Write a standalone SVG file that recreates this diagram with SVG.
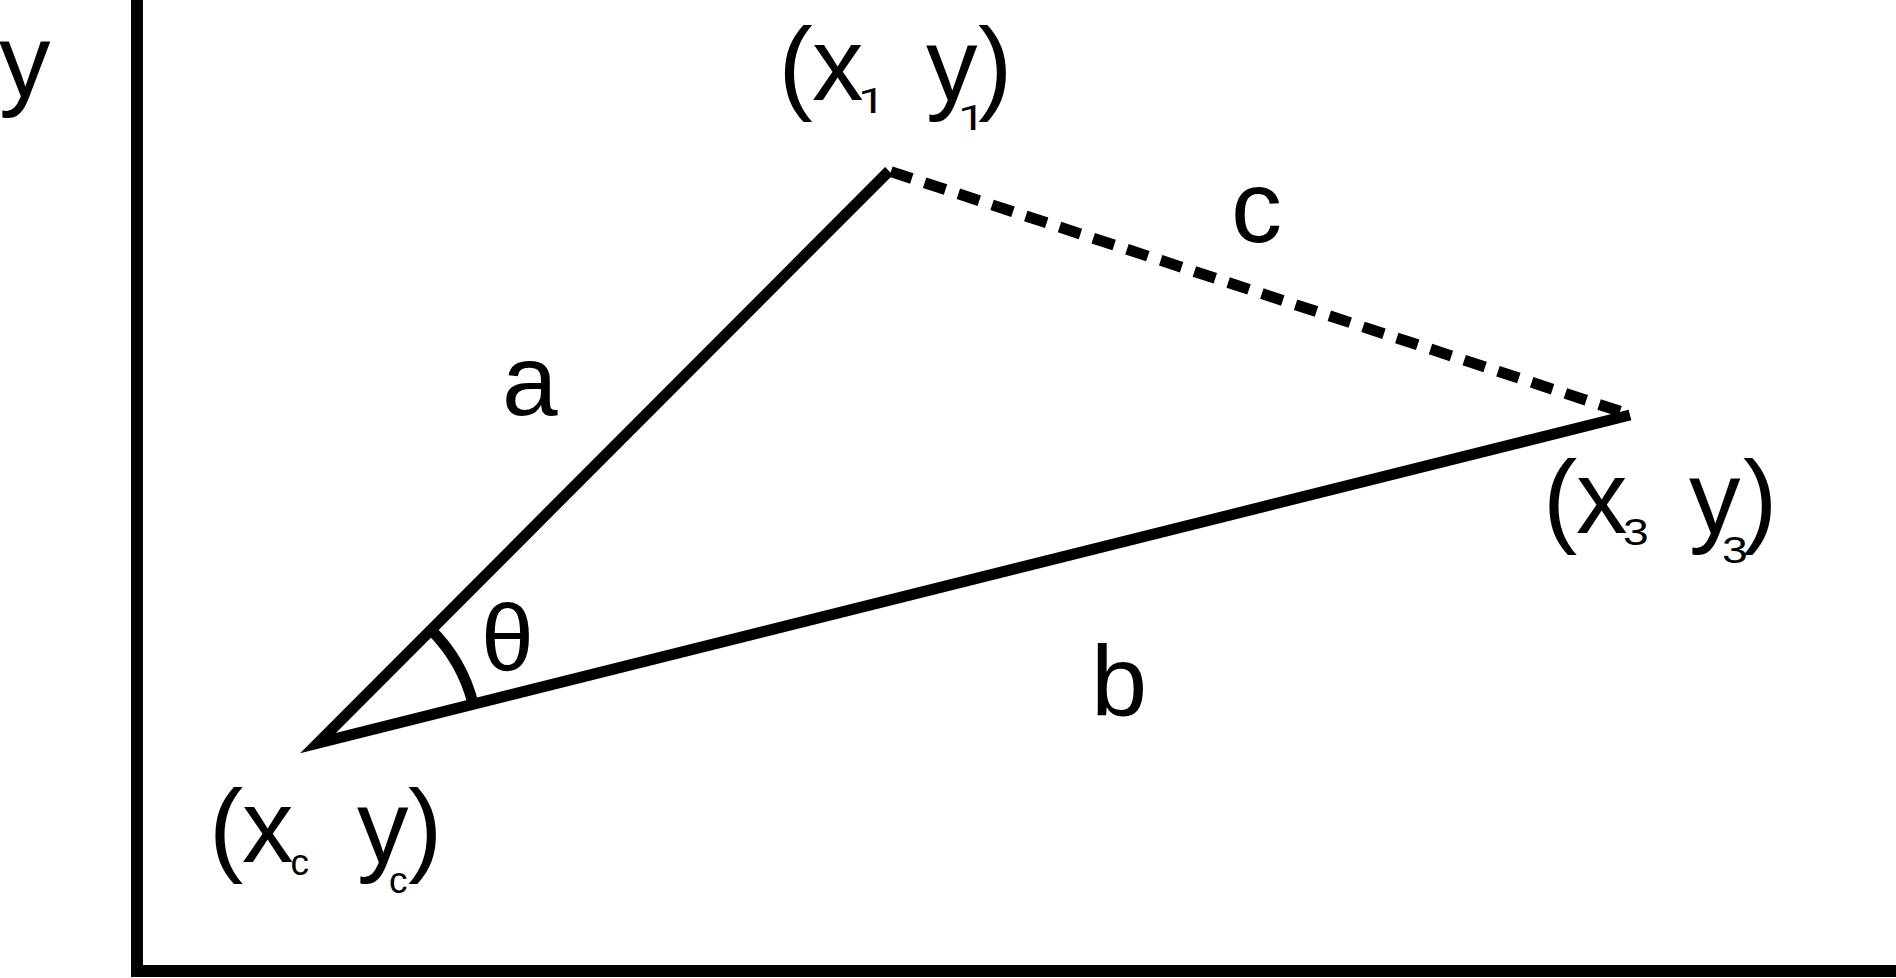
<svg xmlns="http://www.w3.org/2000/svg" width="1896" height="978" viewBox="0 0 1896 978">
<style>
text{font-family:"Liberation Sans",Arial,sans-serif;fill:#000}
.big{font-size:103px}
.sub{font-size:37px}
.one{font-family:Roboto,"Liberation Sans",Arial,sans-serif;font-size:36px}
.ln{fill:none;stroke:#000;stroke-linecap:butt}
</style>
<rect width="1896" height="978" fill="#fff"/>
<g id="axes">
<path class="ln" d="M137,0 V971 H1896" stroke-width="12" stroke-linejoin="miter"/>
<text class="big" x="-1" y="96" font-size="104">y</text>
</g>
<g id="connectors">
<polyline class="ln" points="889,171 318,743 1630,415" stroke-width="11" stroke-linejoin="miter" stroke-miterlimit="10"/>
<line class="ln" x1="889" y1="171" x2="1622" y2="412" stroke-width="11" stroke-dasharray="22 13.5" stroke-dashoffset="-2"/>
<path class="ln" d="M431.1,629.9 A160,160 0 0 1 473.2,704.2" stroke-width="11"/>
</g>
<g id="node-p1">
<text class="big" x="778.5" y="100" font-size="104">(</text>
<text class="big" x="812" y="100" font-size="104">x</text>
<text class="one" transform="translate(858,113) scale(1.35,1)">1</text>
<text class="big" x="926" y="100" font-size="104">y</text>
<text class="one" transform="translate(958,130) scale(1.35,1)">1</text>
<text class="big" x="978" y="100" font-size="104">)</text>
</g>
<g id="node-p3">
<text class="big" x="1543" y="533">(</text>
<text class="big" x="1576" y="533">x</text>
<text class="sub" transform="translate(1623,545) scale(1.25,1)">3</text>
<text class="big" x="1689" y="533">y</text>
<text class="sub" transform="translate(1722,563) scale(1.25,1)">3</text>
<text class="big" x="1743" y="533">)</text>
</g>
<g id="node-pc">
<text class="big" x="209" y="862" font-size="102">(</text>
<text class="big" x="242" y="862" font-size="102">x</text>
<text class="sub" x="290.5" y="875">c</text>
<text class="big" x="357" y="862" font-size="102">y</text>
<text class="sub" x="389" y="893" font-size="40">c</text>
<text class="big" x="408" y="862" font-size="102">)</text>
</g>
<g id="label-a"><text x="502" y="415" font-size="100">a</text></g>
<g id="label-b"><text x="1091" y="716" font-size="101">b</text></g>
<g id="label-c"><text x="1231" y="242" font-size="102">c</text></g>
<g id="label-theta"><text x="481" y="671" font-size="95">θ</text></g>
</svg>
